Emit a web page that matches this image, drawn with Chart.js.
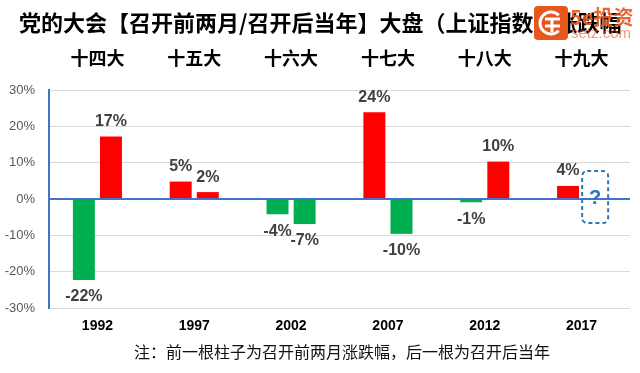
<!DOCTYPE html>
<html><head><meta charset="utf-8">
<script src="https://cdn.jsdelivr.net/npm/chart.js@4.4.0/dist/chart.umd.min.js"></script>
<style>html,body{margin:0;padding:0;background:#fff;}#wrap{width:640px;height:373px;position:relative;}</style>
</head><body><div id="wrap"><canvas id="c" width="640" height="373"></canvas></div>
<script>
const years = ['1992','1997','2002','2007','2012','2017'];
const congresses = ['十四大','十五大','十六大','十七大','十八大','十九大'];
const beforeTwoMonths = [-22.3, 4.8, -4.2, 23.9, -0.9, 3.6];
const afterYear = [17.2, 1.9, -6.9, -9.6, 10.3, null];
const yMin = -30, yMax = 30, yStep = 10;
const titleText = '党的大会【召开前两月/召开后当年】大盘（上证指数）涨跌幅';
const noteText = '注：前一根柱子为召开前两月涨跌幅，后一根为召开后当年';

const RED = '#FF0000', GREEN = '#00B050', BLUE = '#4472C4';
const CJK = '"Noto Sans CJK SC","Microsoft YaHei",sans-serif';
const LAT = '"Liberation Sans",Arial,sans-serif';
const barColor = ctx => (ctx.raw >= 0 ? RED : GREEN);

const overlay = {
  id: 'overlay',
  afterDatasetsDraw(chart) {
    const c = chart.ctx;
    c.save();
    c.font = 'bold 16px ' + LAT;
    c.fillStyle = '#404040';
    c.textAlign = 'center';
    c.textBaseline = 'middle';
    chart.data.datasets.forEach((ds, i) => {
      chart.getDatasetMeta(i).data.forEach((el, j) => {
        const v = ds.data[j];
        if (v === null || v === undefined) return;
        const txt = Math.round(v) + '%';
        const y = v >= 0 ? el.y - 15 : el.y + 17;
        c.fillText(txt, el.x, y);
      });
    });
    // question box for the unknown bar
    const xs = chart.scales.x, ys = chart.scales.y;
    const last = years.length - 1;
    const b0 = chart.getDatasetMeta(0).data[last];
    const cx = 2 * xs.getPixelForValue(last) - b0.x;
    const top = ys.getPixelForValue(7.7), bot = ys.getPixelForValue(-6.6);
    const w = 26;
    c.strokeStyle = '#2E75B6';
    c.lineWidth = 2;
    c.setLineDash([4, 3]);
    c.beginPath();
    c.roundRect(cx - w / 2, top, w, bot - top, 5);
    c.stroke();
    c.setLineDash([]);
    c.fillStyle = '#2E75B6';
    c.font = 'bold 20px ' + LAT;
    c.fillText('?', cx, (top + bot) / 2 + 1);
    c.restore();
  },
  afterDraw(chart) {
    const c = chart.ctx;
    c.save();
    c.fillStyle = '#000';
    c.textBaseline = 'middle';
    c.textAlign = 'left';
    c.font = 'bold 22px ' + CJK;
    c.fillText(titleText, 19, 23);
    c.textAlign = 'center';
    c.font = '16px ' + CJK;
    c.fillStyle = '#111';
    c.fillText(noteText, 342, 352);
    // watermark logo
    c.fillStyle = '#E8561E';
    c.beginPath();
    c.roundRect(534, 6, 34, 34, 4);
    c.fill();
    c.strokeStyle = '#fff';
    c.lineWidth = 3;
    c.beginPath();
    c.arc(551, 23, 11, 0.25 * Math.PI, 1.75 * Math.PI);
    c.stroke();
    c.beginPath();
    c.moveTo(545, 19); c.lineTo(560, 19);
    c.moveTo(545, 26); c.lineTo(560, 26);
    c.moveTo(552, 19); c.lineTo(552, 32);
    c.stroke();
    c.globalAlpha = 0.9;
    c.fillStyle = '#E8561E';
    c.textAlign = 'left';
    c.font = 'bold 20px ' + CJK;
    c.fillText('5e投资', 570, 17);
    c.globalAlpha = 0.6;
    c.font = '15px ' + LAT;
    c.fillText('setz.com', 571, 34);
    c.restore();
  }
};

new Chart(document.getElementById('c'), {
  type: 'bar',
  data: {
    labels: years,
    datasets: [
      { data: beforeTwoMonths, backgroundColor: barColor, categoryPercentage: 0.56, barPercentage: 0.81 },
      { data: afterYear, backgroundColor: barColor, categoryPercentage: 0.56, barPercentage: 0.81 }
    ]
  },
  options: {
    responsive: false,
    animation: false,
    layout: { padding: { left: 0, right: 10, top: 0, bottom: 0 } },
    plugins: { legend: { display: false }, tooltip: { enabled: false } },
    scales: {
      x: {
        position: 'bottom',
        grid: { display: false, drawTicks: false },
        border: { display: false },
        ticks: { padding: 10, color: '#000', font: { family: LAT, weight: 'bold', size: 14 } },
        afterFit(s) { s.height = 65; }
      },
      x2: {
        type: 'category',
        position: 'top',
        labels: congresses,
        grid: { display: false, drawTicks: false },
        border: { display: false },
        ticks: { padding: 21, color: '#000', font: { family: CJK, weight: 'bold', size: 18 } },
        afterFit(s) { s.height = 90; }
      },
      y: {
        min: yMin, max: yMax,
        ticks: { stepSize: yStep, callback: v => v + '%', padding: 14, color: '#595959', font: { family: LAT, size: 13 } },
        grid: {
          drawTicks: false,
          color: ctx => (ctx.tick && ctx.tick.value === 0 ? BLUE : '#D9D9D9'),
          lineWidth: ctx => (ctx.tick && ctx.tick.value === 0 ? 2 : 1)
        },
        border: { color: BLUE, width: 2 },
        afterFit(s) { s.width = 49; }
      }
    }
  },
  plugins: [overlay]
});
</script>
</body></html>
